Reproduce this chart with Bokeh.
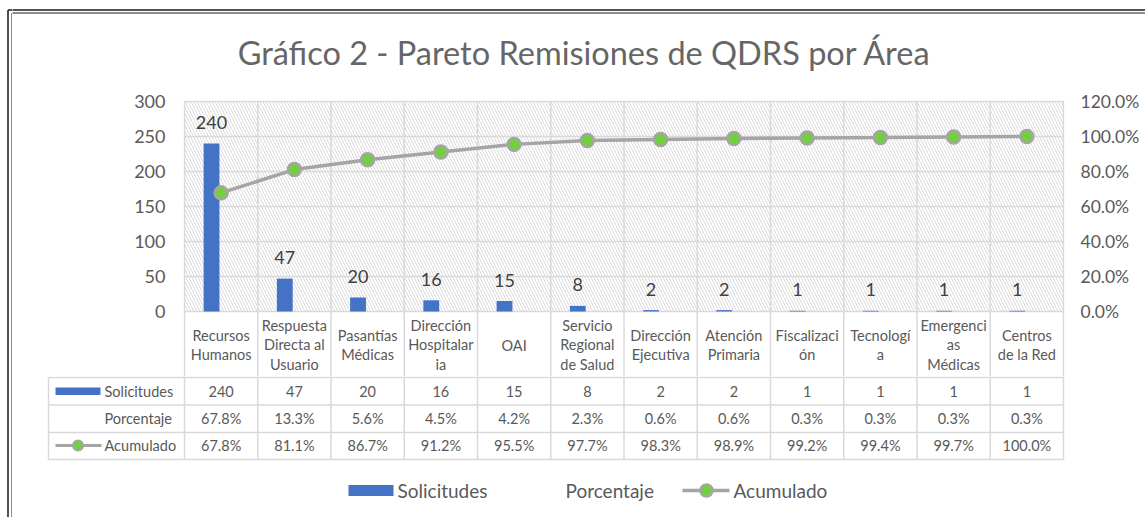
import numpy as np
from bokeh.plotting import figure
from bokeh.layouts import column, row
from bokeh.models import (Range1d, LinearAxis, FixedTicker, NumeralTickFormatter,
                          BoxAnnotation)
from bokeh.core.properties import value
from bokeh.embed import file_html
from bokeh.resources import INLINE

# ---------------- data ----------------
categories = ["Recursos\nHumanos", "Respuesta\nDirecta al\nUsuario", "Pasantías\nMédicas",
              "Dirección\nHospitalar\nia", "OAI", "Servicio\nRegional\nde Salud",
              "Dirección\nEjecutiva", "Atención\nPrimaria", "Fiscalizaci\nón",
              "Tecnologí\na", "Emergenci\nas\nMédicas", "Centros\nde la Red"]
solicitudes = [240, 47, 20, 16, 15, 8, 2, 2, 1, 1, 1, 1]
porcentaje = [67.8, 13.3, 5.6, 4.5, 4.2, 2.3, 0.6, 0.6, 0.3, 0.3, 0.3, 0.3]
acumulado = [67.8, 81.1, 86.7, 91.2, 95.5, 97.7, 98.3, 98.9, 99.2, 99.4, 99.7, 100.0]
left_ticks = [0, 50, 100, 150, 200, 250, 300]
right_ticks = [0.0, 0.2, 0.4, 0.6, 0.8, 1.0, 1.2]
title_text = "Gráfico 2 - Pareto Remisiones de QDRS por Área"
row_names = ["Solicitudes", "Porcentaje", "Acumulado"]

# ---------------- layout (page pixels) ----------------
W, H = 1145, 517
STRIP = 12                   # left strip carrying the outer double frame
FL, FR = 184, 1063           # category axis extent
Y0PX, Y300PX = 311, 101      # pixel rows of value 0 and 300
PXU = (Y0PX - Y300PX) / 300.0
CW = (FR - FL) / 12.0
T_H = 90                     # title band height
M_TOP, M_BOT = 90, 376       # main figure band (plot + category row)
CW_R = W - STRIP

def X(px):
    return (px - FL) / CW

def Y(py):
    return (Y0PX - py) / PXU

FONT = "Lato"
TXT = "#595959"
GRID = "#D9D9D9"
BLUE = "#4472C4"
LGRAY = "#A5A5A5"
GREEN = "#72D03E"
FRAME = "#1a1a1a"

def bare(**kw):
    fig = figure(output_backend="svg", toolbar_location=None, title=None,
                 x_axis_location=None, y_axis_location=None, min_border=0,
                 min_border_left=0, min_border_right=0, min_border_top=0,
                 min_border_bottom=0, **kw)
    fig.outline_line_color = None
    fig.xgrid.visible = False
    fig.ygrid.visible = False
    return fig

n = len(solicitudes)
centers = np.arange(n) + 0.5
edges = np.arange(n + 1)

# ================= left strip (outer double frame, full height) =================
fs = bare(width=STRIP, height=H, x_range=Range1d(0, STRIP), y_range=Range1d(H, 0))
fs.segment(x0=[7.5, 11.5, 7.5, 11.5], y0=[9.5, 12.5, 9.5, 12.5],
           x1=[7.5, 11.5, STRIP + 5, STRIP + 5], y1=[H + 5, H + 5, 9.5, 12.5],
           line_color=FRAME, line_width=[1.5, 1.0, 1.5, 1.0])

# ================= title band =================
ft = bare(width=CW_R, height=T_H, x_range=Range1d(STRIP, W), y_range=Range1d(T_H, 0))
ft.text(x=[584], y=[52], text=[title_text], text_align="center",
        text_baseline="middle", text_font=value(FONT), text_font_size="32.5px",
        text_color="#666666")
ft.segment(x0=[STRIP - 5, STRIP - 5], y0=[9.5, 12.5], x1=[W + 5, W + 5], y1=[9.5, 12.5],
           line_color=FRAME, line_width=[1.5, 1.0])

# ================= main chart =================
fl_px, fr_px = FL - 1, FR + 1
ylo, yhi = Y(M_BOT), Y(Y300PX - 1)
p = figure(width=CW_R, height=M_BOT - M_TOP, output_backend="svg", toolbar_location=None,
           title=None, x_range=Range1d(X(fl_px), X(fr_px)), y_range=Range1d(ylo, yhi),
           min_border_left=fl_px - STRIP, min_border_right=W - fr_px,
           min_border_top=(Y300PX - 1) - M_TOP, min_border_bottom=0)
p.outline_line_color = None
p.xaxis.visible = False
p.xgrid.visible = False

ya = p.yaxis[0]
ya.ticker = FixedTicker(ticks=left_ticks)
ya.axis_line_color = None
ya.major_tick_out = 0
ya.major_tick_in = 0
ya.minor_tick_out = 0
ya.minor_tick_in = 0
ya.major_label_standoff = 18
ya.major_label_text_font = FONT
ya.major_label_text_font_size = "18px"
ya.major_label_text_color = TXT
p.ygrid.ticker = FixedTicker(ticks=left_ticks)
p.ygrid.grid_line_color = GRID
p.ygrid.grid_line_width = 1.5

p.extra_y_ranges = {"pct": Range1d(ylo * 1.2 / 300, yhi * 1.2 / 300)}
ra = LinearAxis(y_range_name="pct", ticker=FixedTicker(ticks=right_ticks),
                formatter=NumeralTickFormatter(format="0.0%"))
ra.axis_line_color = None
ra.major_tick_out = 0
ra.major_tick_in = 0
ra.minor_tick_out = 0
ra.minor_tick_in = 0
ra.major_label_standoff = 16
ra.major_label_text_font = FONT
ra.major_label_text_font_size = "17.5px"
ra.major_label_text_color = TXT
p.add_layout(ra, "right")

p.add_layout(BoxAnnotation(bottom=0, top=300, left=0, right=12, fill_alpha=0,
                           line_alpha=0, hatch_pattern="\\", hatch_color="#DADADA",
                           hatch_scale=6, hatch_weight=1, level="underlay"))
p.segment(x0=edges, y0=[300] * (n + 1), x1=edges, y1=[ylo - 5] * (n + 1),
          line_color=GRID, line_width=1.5, level="underlay")

bar_x = centers - 0.131
bars = p.vbar(x=bar_x, top=solicitudes, bottom=0, width=0.216,
              fill_color=BLUE, line_color=None)
p.text(x=bar_x, y=solicitudes, text=[str(v) for v in solicitudes], y_offset=-21,
       text_align="center", text_baseline="middle", text_font=value(FONT),
       text_font_size="18px", text_color="#404040")

acum = [v / 100 for v in acumulado]
p.line(centers, acum, y_range_name="pct", line_color=LGRAY, line_width=3.5)
p.scatter(centers, acum, y_range_name="pct", size=13, fill_color=GREEN,
          line_color=LGRAY, line_width=2.5)

# category labels (category axis row)
p.text(x=centers, y=[Y(344.5)] * n, text=categories, text_align="center",
       text_baseline="middle", text_font=value(FONT), text_font_size="14.5px",
       text_color=TXT, text_line_height=1.13)

# ================= data table + legend =================
fb = bare(width=CW_R, height=H - M_BOT, x_range=Range1d(X(STRIP), X(W)),
          y_range=Range1d(H, M_BOT))
TB = 459
row_lines = [377, 404.5, 432, TB]
fb.segment(x0=edges, y0=[M_BOT - 5] * (n + 1), x1=edges, y1=[TB] * (n + 1),
           line_color=GRID, line_width=1.5)
fb.segment(x0=[X(48)] * len(row_lines), y0=row_lines, x1=[12] * len(row_lines),
           y1=row_lines, line_color=GRID, line_width=1.5)
fb.segment(x0=[X(48)], y0=[377], x1=[X(48)], y1=[TB], line_color=GRID, line_width=1.5)

rows = [[str(v) for v in solicitudes],
        [f"{v:.1f}%" for v in porcentaje],
        [f"{v:.1f}%" for v in acumulado]]
row_centers = [391, 418, 445]
for vals, rc in zip(rows, row_centers):
    fb.text(x=centers, y=[rc] * n, text=vals, text_align="center",
            text_baseline="middle", text_font=value(FONT), text_font_size="14.5px",
            text_color=TXT)

# header column: keys + names
fb.text(x=[X(104)] * 3, y=row_centers, text=row_names, text_align="left",
        text_baseline="middle", text_font=value(FONT), text_font_size="14.5px",
        text_color=TXT)
fb.quad(left=[X(55)], right=[X(100)], top=[387], bottom=[394.5],
        fill_color=BLUE, line_color=None)
fb.segment(x0=[X(55)], y0=[445], x1=[X(101)], y1=[445], line_color=LGRAY, line_width=3)
fb.scatter(x=[X(77.5)], y=[445], size=10, fill_color=GREEN, line_color=LGRAY,
           line_width=2)

# bottom legend
LY = 490
fb.quad(left=[X(348)], right=[X(393)], top=[484.5], bottom=[495.5],
        fill_color=BLUE, line_color=None)
fb.segment(x0=[X(682)], y0=[LY], x1=[X(729)], y1=[LY], line_color=LGRAY, line_width=3.5)
fb.scatter(x=[X(706)], y=[LY], size=12, fill_color=GREEN, line_color=LGRAY,
           line_width=2.5)
fb.text(x=[X(397), X(565), X(733)], y=[LY] * 3, text=row_names, text_align="left",
        text_baseline="middle", text_font=value(FONT), text_font_size="19px",
        text_color=TXT)

layout = row(fs, column(ft, row(p), fb))
open("out.html", "w").write(file_html(layout, INLINE))
